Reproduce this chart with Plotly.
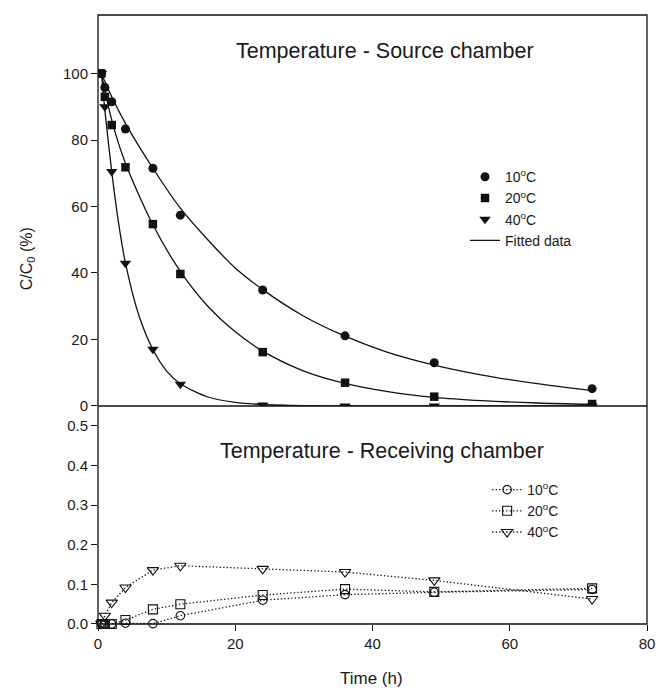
import plotly.graph_objects as go

# ---------------- data ----------------
time_h = [0.5, 1, 2, 4, 8, 12, 24, 36, 49, 72]

# Source chamber, C/C0 (%)
src_10 = [100, 95.8, 91.5, 83.3, 71.5, 57.4, 34.9, 21.1, 13.0, 5.2]
src_20 = [100, 93.0, 84.5, 71.8, 54.7, 39.7, 16.2, 7.0, 2.8, 0.6]
src_40 = [100, 90.0, 70.5, 42.9, 17.1, 6.5, 0.3, 0.0, 0.0, 0.0]

# Fitted curves
fit_t_10 = [0.5, 2, 4, 8, 12, 16, 20, 24, 30, 36, 42, 49, 56, 64, 72]
fit_10 = [100, 93, 85, 71.5, 59.5, 50, 41.5, 35, 27, 21, 16.3, 12.3, 9.3, 6.7, 4.6]
fit_t_20 = [0.5, 2, 4, 8, 12, 16, 20, 24, 30, 36, 42, 49, 56, 64, 72]
fit_20 = [100, 86, 73, 54.5, 40.5, 30, 22.3, 16.5, 10.5, 6.8, 4.4, 2.6, 1.6, 0.9, 0.5]
fit_t_40 = [0.5, 1, 2, 3, 4, 6, 8, 10, 12, 16, 20, 24, 30, 36, 49, 72]
fit_40 = [100, 89, 70.5, 55, 43, 27, 17, 10.5, 6.7, 2.7, 1.1, 0.45, 0.1, 0.0, 0.0, 0.0]

# Receiving chamber, C/C0 (%)
rec_10 = [0.0, 0.0, 0.0, 0.002, 0.001, 0.021, 0.060, 0.074, 0.080, 0.087]
rec_20 = [0.0, 0.0, 0.0, 0.010, 0.037, 0.050, 0.073, 0.088, 0.081, 0.090]
rec_40 = [0.001, 0.021, 0.054, 0.092, 0.136, 0.147, 0.139, 0.131, 0.110, 0.063]

x_ticks = [0, 20, 40, 60, 80]
y_src_ticks = [0, 20, 40, 60, 80, 100]
y_rec_ticks = [0.0, 0.1, 0.2, 0.3, 0.4, 0.5]

labels = ["10<sup>o</sup>C", "20<sup>o</sup>C", "40<sup>o</sup>C"]

# ---------------- figure ----------------
FONT = "Liberation Sans, Arial, sans-serif"
INK = "#111111"
TXT = "#1a1a1a"
SPLIT = 0.358

fig = go.Figure()

# upper panel: points
sym_fill = ["circle", "square", "triangle-down"]
sizes_fill = [9, 8.5, 10]
for ys, lab, sym, sz in zip([src_10, src_20, src_40], labels, sym_fill, sizes_fill):
    fig.add_trace(go.Scatter(
        x=time_h, y=ys, mode="markers", name=lab,
        marker=dict(symbol=sym, size=sz, color=INK, line=dict(width=0)),
        xaxis="x2", yaxis="y2", legend="legend"))

# fitted curves
for i, (tx, ty) in enumerate([(fit_t_10, fit_10), (fit_t_20, fit_20), (fit_t_40, fit_40)]):
    fig.add_trace(go.Scatter(
        x=tx, y=ty, mode="lines", name="Fitted data",
        line=dict(color=INK, width=1.3, shape="spline", smoothing=0.8),
        showlegend=(i == 0), xaxis="x2", yaxis="y2", legend="legend"))

# lower panel
sym_open = ["circle-open", "square-open", "triangle-down-open"]
sizes_open = [8.5, 9, 10]
for ys, lab, sym, sz in zip([rec_10, rec_20, rec_40], labels, sym_open, sizes_open):
    fig.add_trace(go.Scatter(
        x=time_h, y=ys, mode="lines+markers", name=lab,
        line=dict(color=INK, width=1.3, dash="1.3px,2.2px"),
        marker=dict(symbol=sym, size=sz, color=INK, line=dict(width=1.1, color=INK)),
        cliponaxis=False, xaxis="x", yaxis="y", legend="legend2"))

axis_common = dict(showgrid=False, zeroline=False, ticks="outside", ticklen=6,
                   tickwidth=1.2, tickcolor=INK, showline=False, automargin=False,
                   tickfont=dict(family=FONT, size=15, color=TXT))

fig.update_layout(
    width=656, height=689,
    margin=dict(l=98, r=9, t=15, b=65),
    paper_bgcolor="white", plot_bgcolor="white",
    font=dict(family=FONT, color=TXT),
    hovermode=False,
    xaxis=dict(domain=[0, 1], range=[0, 80], tickvals=x_ticks, anchor="y", **axis_common),
    yaxis=dict(domain=[0, SPLIT], range=[0, 0.55], tickvals=y_rec_ticks,
               tickformat=".1f", anchor="x", **axis_common),
    xaxis2=dict(domain=[0, 1], range=[0, 80], anchor="y2", matches="x",
                showticklabels=False, ticks="", showgrid=False, zeroline=False),
    yaxis2=dict(domain=[SPLIT, 1], range=[0, 117.6], tickvals=y_src_ticks,
                anchor="x2", **axis_common),
    legend=dict(x=0.6685, xanchor="left", y=0.760, yanchor="top",
                bgcolor="rgba(0,0,0,0)", borderwidth=0,
                font=dict(family=FONT, size=14, color=TXT), itemwidth=30,
                tracegroupgap=0),
    legend2=dict(x=0.7088, xanchor="left", y=0.2463, yanchor="top",
                 bgcolor="rgba(0,0,0,0)", borderwidth=0,
                 font=dict(family=FONT, size=14, color=TXT), itemwidth=30),
    showlegend=True,
)

# frame and divider
fig.add_shape(type="rect", xref="paper", yref="paper", x0=0, x1=1, y0=0, y1=1,
              line=dict(color=INK, width=1.3), layer="above")
fig.add_shape(type="line", xref="paper", yref="paper", x0=0, x1=1, y0=SPLIT, y1=SPLIT,
              line=dict(color=INK, width=1.3), layer="above")

# titles
fig.add_annotation(text="Temperature - Source chamber", xref="paper", yref="paper",
                   x=0.523, y=0.941, xanchor="center", yanchor="middle", showarrow=False,
                   font=dict(family=FONT, size=21.5, color=TXT))
fig.add_annotation(text="Temperature - Receiving chamber", xref="paper", yref="paper",
                   x=0.517, y=0.2846, xanchor="center", yanchor="middle", showarrow=False,
                   font=dict(family=FONT, size=21.5, color=TXT))
fig.add_annotation(text="Time (h)", xref="paper", yref="paper", x=0.499, y=-0.0887,
                   xanchor="center", yanchor="middle",
                   showarrow=False, font=dict(family=FONT, size=17, color=TXT))
fig.add_annotation(text="C/C<sub>0</sub> (%)", xref="paper", yref="paper",
                   x=-0.128, y=0.60, xanchor="center", yanchor="middle",
                   textangle=-90, showarrow=False,
                   font=dict(family=FONT, size=16, color=TXT))

fig.write_html(
    "out.html",
    config={"displayModeBar": False},
    post_script="document.body.style.margin='0';document.body.style.overflow='hidden';",
)
